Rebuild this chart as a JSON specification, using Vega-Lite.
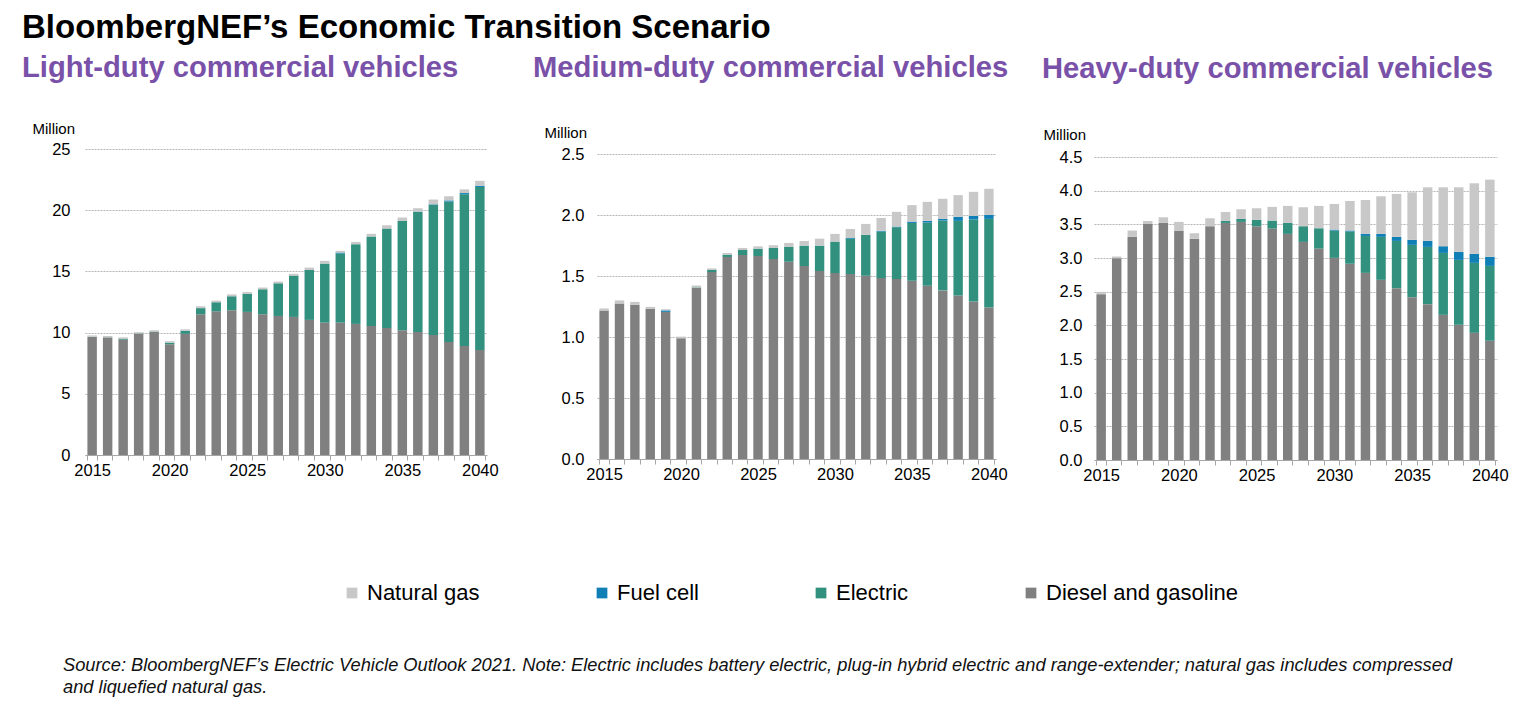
{
  "$schema": "https://vega.github.io/schema/vega-lite/v6.json",
  "background": "white",
  "padding": {"left": 22, "top": 11, "right": 10, "bottom": 4},
  "title": {"text": "BloombergNEF’s Economic Transition Scenario", "anchor": "start", "frame": "bounds", "fontSize": 33, "fontWeight": "bold", "font": "Liberation Sans", "color": "#000000", "offset": 9},
  "config": {
    "view": {"stroke": null},
    "font": "Liberation Sans",
    "axis": {"labelFont": "Liberation Sans", "titleFont": "Liberation Sans", "labelColor": "#000000", "titleColor": "#000000"},
    "legend": {"labelFont": "Liberation Sans"}
  },
  "data": {"values": [
    {"c": "Light", "year": 2015, "Diesel and gasoline": 9.65, "Electric": 0.02, "Fuel cell": 0, "Natural gas": 0.1},
    {"c": "Light", "year": 2016, "Diesel and gasoline": 9.6, "Electric": 0.02, "Fuel cell": 0, "Natural gas": 0.1},
    {"c": "Light", "year": 2017, "Diesel and gasoline": 9.43, "Electric": 0.08, "Fuel cell": 0, "Natural gas": 0.1},
    {"c": "Light", "year": 2018, "Diesel and gasoline": 9.9, "Electric": 0.03, "Fuel cell": 0, "Natural gas": 0.1},
    {"c": "Light", "year": 2019, "Diesel and gasoline": 10.05, "Electric": 0.04, "Fuel cell": 0, "Natural gas": 0.1},
    {"c": "Light", "year": 2020, "Diesel and gasoline": 9.05, "Electric": 0.13, "Fuel cell": 0, "Natural gas": 0.12},
    {"c": "Light", "year": 2021, "Diesel and gasoline": 9.9, "Electric": 0.25, "Fuel cell": 0, "Natural gas": 0.12},
    {"c": "Light", "year": 2022, "Diesel and gasoline": 11.5, "Electric": 0.5, "Fuel cell": 0, "Natural gas": 0.15},
    {"c": "Light", "year": 2023, "Diesel and gasoline": 11.74, "Electric": 0.74, "Fuel cell": 0, "Natural gas": 0.13},
    {"c": "Light", "year": 2024, "Diesel and gasoline": 11.83, "Electric": 1.14, "Fuel cell": 0, "Natural gas": 0.15},
    {"c": "Light", "year": 2025, "Diesel and gasoline": 11.69, "Electric": 1.47, "Fuel cell": 0, "Natural gas": 0.15},
    {"c": "Light", "year": 2026, "Diesel and gasoline": 11.5, "Electric": 2.04, "Fuel cell": 0, "Natural gas": 0.14},
    {"c": "Light", "year": 2027, "Diesel and gasoline": 11.36, "Electric": 2.67, "Fuel cell": 0, "Natural gas": 0.14},
    {"c": "Light", "year": 2028, "Diesel and gasoline": 11.28, "Electric": 3.38, "Fuel cell": 0, "Natural gas": 0.14},
    {"c": "Light", "year": 2029, "Diesel and gasoline": 11.04, "Electric": 4.08, "Fuel cell": 0, "Natural gas": 0.19},
    {"c": "Light", "year": 2030, "Diesel and gasoline": 10.82, "Electric": 4.82, "Fuel cell": 0, "Natural gas": 0.22},
    {"c": "Light", "year": 2031, "Diesel and gasoline": 10.82, "Electric": 5.64, "Fuel cell": 0.08, "Natural gas": 0.14},
    {"c": "Light", "year": 2032, "Diesel and gasoline": 10.71, "Electric": 6.51, "Fuel cell": 0, "Natural gas": 0.19},
    {"c": "Light", "year": 2033, "Diesel and gasoline": 10.54, "Electric": 7.31, "Fuel cell": 0, "Natural gas": 0.22},
    {"c": "Light", "year": 2034, "Diesel and gasoline": 10.38, "Electric": 8.12, "Fuel cell": 0, "Natural gas": 0.27},
    {"c": "Light", "year": 2035, "Diesel and gasoline": 10.19, "Electric": 8.94, "Fuel cell": 0, "Natural gas": 0.27},
    {"c": "Light", "year": 2036, "Diesel and gasoline": 10.05, "Electric": 9.81, "Fuel cell": 0.03, "Natural gas": 0.27},
    {"c": "Light", "year": 2037, "Diesel and gasoline": 9.81, "Electric": 10.63, "Fuel cell": 0.04, "Natural gas": 0.39},
    {"c": "Light", "year": 2038, "Diesel and gasoline": 9.24, "Electric": 11.46, "Fuel cell": 0.1, "Natural gas": 0.34},
    {"c": "Light", "year": 2039, "Diesel and gasoline": 8.91, "Electric": 12.39, "Fuel cell": 0.1, "Natural gas": 0.3},
    {"c": "Light", "year": 2040, "Diesel and gasoline": 8.58, "Electric": 13.32, "Fuel cell": 0.1, "Natural gas": 0.4},
    {"c": "Medium", "year": 2015, "Diesel and gasoline": 1.217, "Electric": 0, "Fuel cell": 0, "Natural gas": 0.017},
    {"c": "Medium", "year": 2016, "Diesel and gasoline": 1.275, "Electric": 0, "Fuel cell": 0, "Natural gas": 0.025},
    {"c": "Medium", "year": 2017, "Diesel and gasoline": 1.264, "Electric": 0, "Fuel cell": 0, "Natural gas": 0.024},
    {"c": "Medium", "year": 2018, "Diesel and gasoline": 1.231, "Electric": 0, "Fuel cell": 0, "Natural gas": 0.016},
    {"c": "Medium", "year": 2019, "Diesel and gasoline": 1.206, "Electric": 0, "Fuel cell": 0.012, "Natural gas": 0.01},
    {"c": "Medium", "year": 2020, "Diesel and gasoline": 0.99, "Electric": 0, "Fuel cell": 0, "Natural gas": 0.013},
    {"c": "Medium", "year": 2021, "Diesel and gasoline": 1.401, "Electric": 0.005, "Fuel cell": 0, "Natural gas": 0.016},
    {"c": "Medium", "year": 2022, "Diesel and gasoline": 1.532, "Electric": 0.017, "Fuel cell": 0, "Natural gas": 0.013},
    {"c": "Medium", "year": 2023, "Diesel and gasoline": 1.656, "Electric": 0.019, "Fuel cell": 0, "Natural gas": 0.014},
    {"c": "Medium", "year": 2024, "Diesel and gasoline": 1.672, "Electric": 0.041, "Fuel cell": 0, "Natural gas": 0.017},
    {"c": "Medium", "year": 2025, "Diesel and gasoline": 1.664, "Electric": 0.06, "Fuel cell": 0, "Natural gas": 0.019},
    {"c": "Medium", "year": 2026, "Diesel and gasoline": 1.639, "Electric": 0.091, "Fuel cell": 0, "Natural gas": 0.022},
    {"c": "Medium", "year": 2027, "Diesel and gasoline": 1.617, "Electric": 0.121, "Fuel cell": 0, "Natural gas": 0.033},
    {"c": "Medium", "year": 2028, "Diesel and gasoline": 1.582, "Electric": 0.167, "Fuel cell": 0, "Natural gas": 0.038},
    {"c": "Medium", "year": 2029, "Diesel and gasoline": 1.541, "Electric": 0.208, "Fuel cell": 0, "Natural gas": 0.057},
    {"c": "Medium", "year": 2030, "Diesel and gasoline": 1.524, "Electric": 0.258, "Fuel cell": 0, "Natural gas": 0.063},
    {"c": "Medium", "year": 2031, "Diesel and gasoline": 1.516, "Electric": 0.29, "Fuel cell": 0.006, "Natural gas": 0.074},
    {"c": "Medium", "year": 2032, "Diesel and gasoline": 1.502, "Electric": 0.335, "Fuel cell": 0, "Natural gas": 0.09},
    {"c": "Medium", "year": 2033, "Diesel and gasoline": 1.483, "Electric": 0.381, "Fuel cell": 0.006, "Natural gas": 0.106},
    {"c": "Medium", "year": 2034, "Diesel and gasoline": 1.475, "Electric": 0.425, "Fuel cell": 0.005, "Natural gas": 0.121},
    {"c": "Medium", "year": 2035, "Diesel and gasoline": 1.461, "Electric": 0.474, "Fuel cell": 0.011, "Natural gas": 0.135},
    {"c": "Medium", "year": 2036, "Diesel and gasoline": 1.42, "Electric": 0.518, "Fuel cell": 0.014, "Natural gas": 0.156},
    {"c": "Medium", "year": 2037, "Diesel and gasoline": 1.382, "Electric": 0.573, "Fuel cell": 0.013, "Natural gas": 0.165},
    {"c": "Medium", "year": 2038, "Diesel and gasoline": 1.34, "Electric": 0.612, "Fuel cell": 0.033, "Natural gas": 0.178},
    {"c": "Medium", "year": 2039, "Diesel and gasoline": 1.291, "Electric": 0.672, "Fuel cell": 0.03, "Natural gas": 0.197},
    {"c": "Medium", "year": 2040, "Diesel and gasoline": 1.242, "Electric": 0.726, "Fuel cell": 0.033, "Natural gas": 0.214},
    {"c": "Heavy", "year": 2015, "Diesel and gasoline": 2.463, "Electric": 0, "Fuel cell": 0, "Natural gas": 0.034},
    {"c": "Heavy", "year": 2016, "Diesel and gasoline": 2.997, "Electric": 0, "Fuel cell": 0, "Natural gas": 0.025},
    {"c": "Heavy", "year": 2017, "Diesel and gasoline": 3.313, "Electric": 0, "Fuel cell": 0, "Natural gas": 0.095},
    {"c": "Heavy", "year": 2018, "Diesel and gasoline": 3.506, "Electric": 0, "Fuel cell": 0, "Natural gas": 0.045},
    {"c": "Heavy", "year": 2019, "Diesel and gasoline": 3.521, "Electric": 0, "Fuel cell": 0, "Natural gas": 0.084},
    {"c": "Heavy", "year": 2020, "Diesel and gasoline": 3.403, "Electric": 0, "Fuel cell": 0, "Natural gas": 0.133},
    {"c": "Heavy", "year": 2021, "Diesel and gasoline": 3.284, "Electric": 0, "Fuel cell": 0, "Natural gas": 0.084},
    {"c": "Heavy", "year": 2022, "Diesel and gasoline": 3.472, "Electric": 0, "Fuel cell": 0, "Natural gas": 0.118},
    {"c": "Heavy", "year": 2023, "Diesel and gasoline": 3.521, "Electric": 0.03, "Fuel cell": 0, "Natural gas": 0.133},
    {"c": "Heavy", "year": 2024, "Diesel and gasoline": 3.536, "Electric": 0.044, "Fuel cell": 0, "Natural gas": 0.144},
    {"c": "Heavy", "year": 2025, "Diesel and gasoline": 3.472, "Electric": 0.094, "Fuel cell": 0, "Natural gas": 0.173},
    {"c": "Heavy", "year": 2026, "Diesel and gasoline": 3.437, "Electric": 0.119, "Fuel cell": 0, "Natural gas": 0.203},
    {"c": "Heavy", "year": 2027, "Diesel and gasoline": 3.358, "Electric": 0.163, "Fuel cell": 0, "Natural gas": 0.253},
    {"c": "Heavy", "year": 2028, "Diesel and gasoline": 3.239, "Electric": 0.233, "Fuel cell": 0, "Natural gas": 0.282},
    {"c": "Heavy", "year": 2029, "Diesel and gasoline": 3.14, "Electric": 0.302, "Fuel cell": 0, "Natural gas": 0.332},
    {"c": "Heavy", "year": 2030, "Diesel and gasoline": 3.002, "Electric": 0.406, "Fuel cell": 0.014, "Natural gas": 0.381},
    {"c": "Heavy", "year": 2031, "Diesel and gasoline": 2.913, "Electric": 0.48, "Fuel cell": 0.015, "Natural gas": 0.44},
    {"c": "Heavy", "year": 2032, "Diesel and gasoline": 2.779, "Electric": 0.549, "Fuel cell": 0.03, "Natural gas": 0.504},
    {"c": "Heavy", "year": 2033, "Diesel and gasoline": 2.676, "Electric": 0.638, "Fuel cell": 0.044, "Natural gas": 0.559},
    {"c": "Heavy", "year": 2034, "Diesel and gasoline": 2.552, "Electric": 0.702, "Fuel cell": 0.06, "Natural gas": 0.638},
    {"c": "Heavy", "year": 2035, "Diesel and gasoline": 2.418, "Electric": 0.777, "Fuel cell": 0.074, "Natural gas": 0.707},
    {"c": "Heavy", "year": 2036, "Diesel and gasoline": 2.315, "Electric": 0.85, "Fuel cell": 0.089, "Natural gas": 0.796},
    {"c": "Heavy", "year": 2037, "Diesel and gasoline": 2.156, "Electric": 0.92, "Fuel cell": 0.099, "Natural gas": 0.875},
    {"c": "Heavy", "year": 2038, "Diesel and gasoline": 2.008, "Electric": 0.964, "Fuel cell": 0.119, "Natural gas": 0.959},
    {"c": "Heavy", "year": 2039, "Diesel and gasoline": 1.889, "Electric": 1.039, "Fuel cell": 0.133, "Natural gas": 1.049},
    {"c": "Heavy", "year": 2040, "Diesel and gasoline": 1.771, "Electric": 1.112, "Fuel cell": 0.134, "Natural gas": 1.147}
  ]},
  "vconcat": [
    {
      "title": {"text": ["Source: BloombergNEF’s Electric Vehicle Outlook 2021. Note: Electric includes battery electric, plug-in hybrid electric and range-extender; natural gas includes compressed", "and liquefied natural gas."], "orient": "bottom", "anchor": "start", "frame": "bounds", "fontSize": 18.3, "fontStyle": "italic", "fontWeight": "normal", "font": "Liberation Sans", "color": "#111111", "lineHeight": 22, "offset": 173, "dx": 41},
      "spacing": 110,
      "bounds": "flush",
      "hconcat": [
        {
          "width": 402, "height": 306,
          "title": {"text": "Light-duty commercial vehicles", "anchor": "start", "frame": "group", "dx": -63, "fontSize": 29.2, "fontWeight": "bold", "color": "#7951a8", "offset": 38},
          "transform": [{"filter": "datum.c === 'Light'"}, {"fold": ["Diesel and gasoline", "Electric", "Fuel cell", "Natural gas"], "as": ["type", "value"]}],
          "mark": {"type": "bar"},
          "encoding": {
            "x": {"field": "year", "type": "ordinal", "scale": {"paddingInner": 0.39, "paddingOuter": 0.155},
              "axis": {"title": null, "labelExpr": "datum.value % 5 === 0 ? datum.label : ''", "labelAngle": 0, "labelFontSize": 16.5, "labelPadding": 2, "tickBand": "extent", "ticks": true, "tickSize": 5, "tickColor": "#a6a6a6", "domainColor": "#a6a6a6", "grid": false}},
            "y": {"field": "value", "type": "quantitative", "stack": "zero", "scale": {"domain": [0, 25], "nice": false},
              "axis": {"values": [0, 5, 10, 15, 20, 25], "title": "Million", "titleAngle": 0, "titleAlign": "left", "titleBaseline": "middle", "titleX": -53, "titleY": -21, "titleFontSize": 15, "titleFontWeight": "normal", "labelFontSize": 16.5, "labelPadding": 15, "ticks": false, "domain": false, "grid": true, "gridColor": "#b5b5b5", "gridDash": [2, 1]}},
            "color": {"field": "type", "type": "nominal",
              "scale": {"domain": ["Natural gas", "Fuel cell", "Electric", "Diesel and gasoline"], "range": ["#c8c8c8", "#0f7fb6", "#32907f", "#808080"]},
              "legend": {"orient": "none", "direction": "horizontal", "legendX": 256, "legendY": 433, "title": null, "symbolType": "square", "symbolSize": 115, "symbolStrokeWidth": 0, "labelFontSize": 22, "labelColor": "#000000", "labelLimit": 400, "columnPadding": 111, "labelOffset": 4}},
            "order": {"field": "type", "sort": "ascending"}
          }
        },
        {
          "spacing": 98,
          "bounds": "flush",
          "hconcat": [
            {
              "width": 399, "height": 310,
              "title": {"text": "Medium-duty commercial vehicles", "anchor": "start", "frame": "group", "dx": -64, "fontSize": 29.2, "fontWeight": "bold", "color": "#7951a8", "offset": 42},
              "transform": [{"filter": "datum.c === 'Medium'"}, {"fold": ["Diesel and gasoline", "Electric", "Fuel cell", "Natural gas"], "as": ["type", "value"]}],
              "mark": {"type": "bar"},
              "encoding": {
                "x": {"field": "year", "type": "ordinal", "scale": {"paddingInner": 0.39, "paddingOuter": 0.155},
                  "axis": {"title": null, "labelExpr": "datum.value % 5 === 0 ? datum.label : ''", "labelAngle": 0, "labelFontSize": 16.5, "labelPadding": 2, "tickBand": "extent", "ticks": true, "tickSize": 5, "tickColor": "#a6a6a6", "domainColor": "#a6a6a6", "grid": false}},
                "y": {"field": "value", "type": "quantitative", "stack": "zero", "scale": {"domain": [0, 2.541], "nice": false},
                  "axis": {"values": [0, 0.5, 1, 1.5, 2, 2.5], "format": ".1f", "title": "Million", "titleAngle": 0, "titleAlign": "left", "titleBaseline": "middle", "titleX": -53, "titleY": -17, "titleFontSize": 15, "titleFontWeight": "normal", "labelFontSize": 16.5, "labelPadding": 13, "ticks": false, "domain": false, "grid": true, "gridColor": "#b5b5b5", "gridDash": [2, 1]}},
                "color": {"field": "type", "type": "nominal"},
                "order": {"field": "type", "sort": "ascending"}
              }
            },
            {
              "width": 403, "height": 311,
              "title": {"text": "Heavy-duty commercial vehicles", "anchor": "start", "frame": "group", "dx": -52, "fontSize": 29.2, "fontWeight": "bold", "color": "#7951a8", "offset": 43},
              "transform": [{"filter": "datum.c === 'Heavy'"}, {"fold": ["Diesel and gasoline", "Electric", "Fuel cell", "Natural gas"], "as": ["type", "value"]}],
              "mark": {"type": "bar"},
              "encoding": {
                "x": {"field": "year", "type": "ordinal", "scale": {"paddingInner": 0.39, "paddingOuter": 0.155},
                  "axis": {"title": null, "labelExpr": "datum.value % 5 === 0 ? datum.label : ''", "labelAngle": 0, "labelFontSize": 16.5, "labelPadding": 2, "tickBand": "extent", "ticks": true, "tickSize": 5, "tickColor": "#a6a6a6", "domainColor": "#a6a6a6", "grid": false}},
                "y": {"field": "value", "type": "quantitative", "stack": "zero", "scale": {"domain": [0, 4.619], "nice": false},
                  "axis": {"values": [0, 0.5, 1, 1.5, 2, 2.5, 3, 3.5, 4, 4.5], "format": ".1f", "title": "Million", "titleAngle": 0, "titleAlign": "left", "titleBaseline": "middle", "titleX": -51, "titleY": -15, "titleFontSize": 15, "titleFontWeight": "normal", "labelFontSize": 16.5, "labelPadding": 12, "ticks": false, "domain": false, "grid": true, "gridColor": "#b5b5b5", "gridDash": [2, 1]}},
                "color": {"field": "type", "type": "nominal"},
                "order": {"field": "type", "sort": "ascending"}
              }
            }
          ]
        }
      ]
    }
  ]
}
